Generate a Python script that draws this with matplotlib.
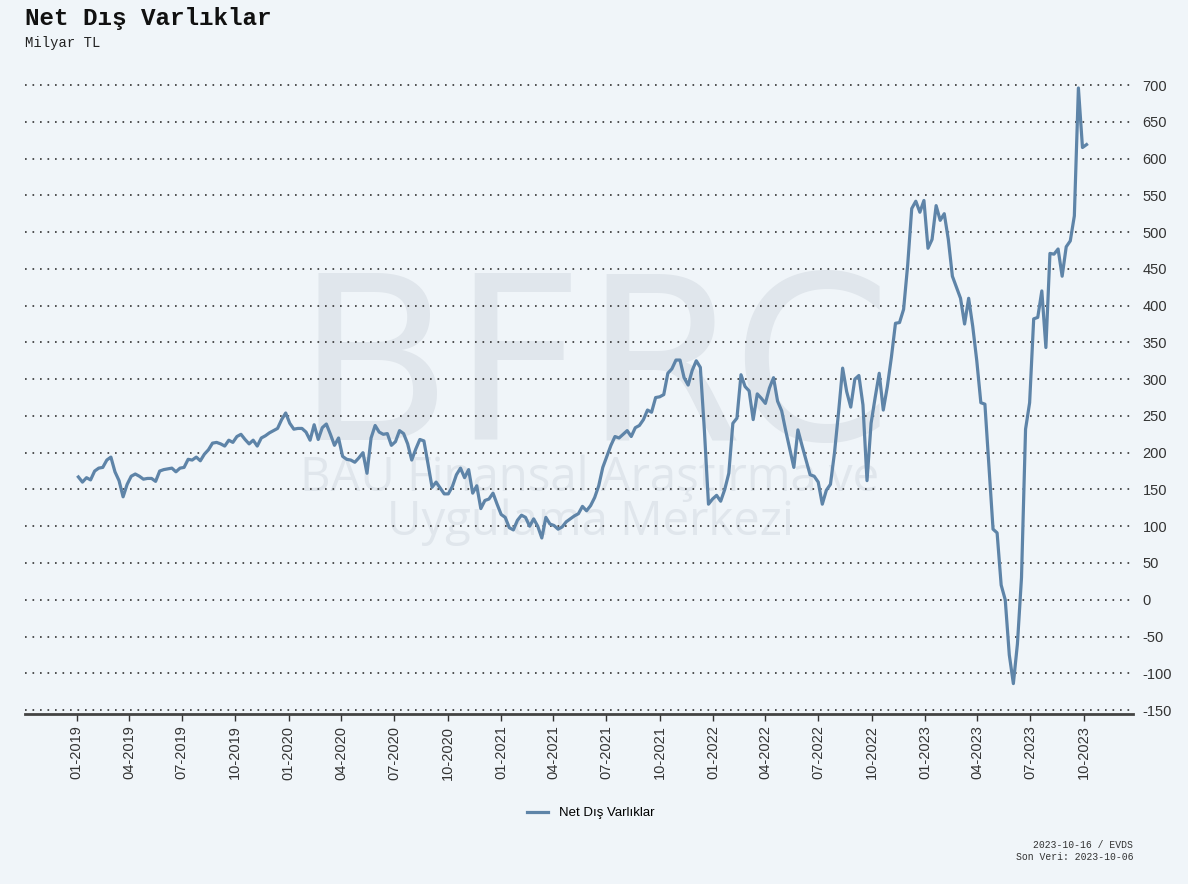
import matplotlib
matplotlib.use("Agg")
from matplotlib import pyplot as plt
import matplotlib.dates as mdates
import pandas as pd

plt.rcParams["font.family"] = ["Liberation Sans", "DejaVu Sans"]
plt.rcParams["axes.unicode_minus"] = False

# haftalik veri, 2019-01-04 .. 2023-10-06 (milyar TL)
dates = pd.date_range("2019-01-04", "2023-10-06", freq="7D")
values = [
    167, 160, 166, 163, 175, 179, 180, 190, 194, 174, 162, 140, 157,
    168, 171, 168, 164, 165, 165, 161, 175, 177, 178, 179, 174, 179,
    180, 191, 190, 194, 189, 198, 204, 213, 214, 212, 209, 217, 214,
    222, 225, 218, 212, 217, 209, 220, 223, 227, 230, 233, 245, 254,
    240, 232, 233, 233, 228, 217, 238, 218, 234, 239, 225, 210, 220,
    195, 191, 190, 187, 193, 200, 172, 220, 237, 228, 225, 226, 210,
    215, 230, 226, 212, 190, 205, 218, 216, 185, 153, 160, 152, 144,
    144, 154, 170, 179, 166, 177, 145, 155, 124, 135, 137, 145, 130,
    116, 112, 98, 95, 108, 115, 112, 100, 110, 100, 84, 112, 103,
    101, 96, 99, 106, 110, 114, 117, 127, 121, 128, 139, 155, 180,
    195, 210, 222, 220, 225, 230, 222, 234, 237, 245, 258, 255, 275,
    276, 279, 308, 314, 326, 326, 302, 292, 312, 325, 316, 230, 130,
    137, 142, 134, 150, 172, 240, 247, 306, 290, 284, 245, 280, 274,
    267, 288, 302, 270, 257, 230, 205, 180, 231, 210, 190, 170, 168,
    160, 130, 149, 157, 200, 255, 315, 283, 262, 300, 305, 265, 162,
    240, 275, 308, 258, 290, 330, 376, 377, 395, 455, 532, 542, 527,
    543, 478, 490, 536, 516, 525, 490, 440, 425, 410, 375, 410, 372,
    325, 268, 266, 180, 96, 91, 20, 0, -75, -114, -60, 30, 232,
    268, 382, 384, 420, 343, 471, 470, 477, 440, 480, 488, 522, 696,
    615, 619,
]
series_name = "Net Dış Varlıklar"
y_ticks = list(range(-150, 701, 50))

bg = "#F0F5F9"
line_color = "#5E84A8"
dark = "#333333"
mark = "#E0E6EC"

fig = plt.figure(figsize=(11.88, 8.84), dpi=100, facecolor=bg)
ax = fig.add_axes([0.021, 0.1926, 0.9327, 0.7237])
ax.set_facecolor(bg)

# filigran
ax.text(0.514, 0.428, "BFRC", transform=ax.transAxes, ha="center", va="baseline",
        fontsize=165, color=mark, family="DejaVu Sans", zorder=0)
ax.text(0.51, 0.368, "BAU Finansal Araştırma ve", transform=ax.transAxes,
        ha="center", va="center", fontsize=34, color=mark, family="Open Sans", zorder=0)
ax.text(0.51, 0.30, "Uygulama Merkezi", transform=ax.transAxes,
        ha="center", va="center", fontsize=34, color=mark, family="Open Sans", zorder=0)

ax.plot(dates, values, color=line_color, linewidth=2.3, label=series_name, zorder=3)

ax.set_ylim(-155, 715)
ax.set_xlim(pd.Timestamp("2018-10-04"), pd.Timestamp("2023-12-25"))
ax.set_yticks(y_ticks)
ax.yaxis.tick_right()
ax.tick_params(axis="y", length=0, pad=7, labelsize=10.5, labelcolor=dark)
ax.grid(axis="y", color=dark, linestyle=(0, (1, 3.5)), linewidth=1.2)
ax.grid(axis="x", visible=False)

ax.xaxis.set_major_locator(mdates.MonthLocator(bymonth=[1, 4, 7, 10]))
ax.xaxis.set_major_formatter(mdates.DateFormatter("%m-%Y"))
ax.tick_params(axis="x", rotation=90, labelsize=10.5, labelcolor=dark,
               color=dark, length=5, width=1, direction="out")

for s in ["top", "right", "left"]:
    ax.spines[s].set_visible(False)
ax.spines["bottom"].set_color("#444444")
ax.spines["bottom"].set_linewidth(2)

fig.text(0.021, 0.979, "Net Dış Varlıklar", family="Liberation Mono",
         weight="bold", fontsize=17.5, color="#111111", va="center")
fig.text(0.021, 0.951, "Milyar TL", family="Liberation Mono",
         fontsize=10, color="#222222", va="center")

fig.legend(loc="center", bbox_to_anchor=(0.497, 0.08), frameon=False,
           fontsize=9.5, handlelength=1.6)

fig.text(0.954, 0.0373, "2023-10-16 / EVDS\nSon Veri: 2023-10-06",
         family="Liberation Mono", fontsize=7, ha="right", va="center",
         color=dark, linespacing=1.2)

plt.savefig("out.png", facecolor=bg)
